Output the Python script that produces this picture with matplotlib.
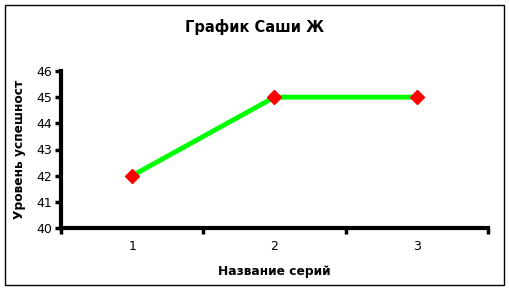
import numpy as np
import matplotlib.pyplot as plt
from matplotlib.patches import Rectangle

# данные
categories = ["1", "2", "3"]
values = [42, 45, 45]
y_ticks = [40, 41, 42, 43, 44, 45, 46]

title = "График Саши Ж"
x_label = "Название серий"
y_label = "Уровень успешност"

plt.rcParams['font.family'] = ['DejaVu Sans']

fig = plt.figure(figsize=(5.1, 2.9), dpi=100)
# рамка вокруг всей диаграммы
fig.patches.append(Rectangle((5/510, 5/290), 499/510, 280/290, transform=fig.transFigure,
                             fill=False, edgecolor="black", linewidth=1))

ax = fig.add_axes([61/510, 1 - 228/290, 427/510, 157/290])
x = np.arange(1, len(categories) + 1)
ax.plot(x, values, color="#00FF00", linewidth=3.5, zorder=2)
ax.plot(x, values, linestyle="none", marker="D", markersize=7.5,
        markerfacecolor="#FF0000", markeredgecolor="#FF0000", zorder=3)

ax.set_xlim(0.5, len(categories) + 0.5)
ax.set_ylim(y_ticks[0], y_ticks[-1])
ax.set_yticks(y_ticks)
ax.set_yticklabels([str(v) for v in y_ticks], fontsize=9)

# деления по границам категорий, подписи по центру
ax.set_xticks(np.arange(0.5, len(categories) + 1, 1.0))
ax.set_xticklabels([])
ax.set_xticks(x, minor=True)
ax.set_xticklabels(categories, minor=True, fontsize=9)
ax.tick_params(axis="x", which="minor", length=0, pad=9)
ax.tick_params(axis="both", which="major", direction="out", length=4.5, width=2.5)
ax.tick_params(axis="y", which="major", pad=2)

for s in ["top", "right"]:
    ax.spines[s].set_visible(False)
for s in ["left", "bottom"]:
    ax.spines[s].set_linewidth(3)

fig.text(0.5, (290 - 32) / 290, title, fontsize=10.5, fontweight="bold",
         ha="center", va="baseline")
ax.set_xlabel(x_label, fontsize=8.8, fontweight="bold", labelpad=8)
ax.set_ylabel(y_label, fontsize=8.8, fontweight="bold", labelpad=7)

fig.savefig("out.png", dpi=100)
